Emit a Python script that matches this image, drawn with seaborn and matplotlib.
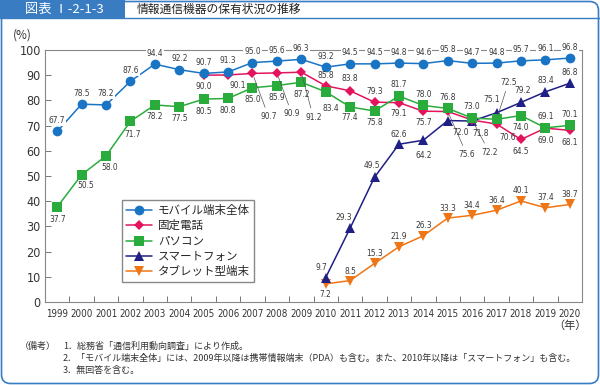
import numpy as np
import pandas as pd
import seaborn as sns
import matplotlib.pyplot as plt
from matplotlib import font_manager
from matplotlib.patches import FancyBboxPatch, Rectangle
from matplotlib.lines import Line2D
from matplotlib.transforms import IdentityTransform

# データ（総務省「通信利用動向調査」）
years = [str(y) for y in range(1999, 2021)]
mobile = [67.7, 78.5, 78.2, 87.6, 94.4, 92.2, 90.7, 91.3, 95.0, 95.6, 96.3,
          93.2, 94.5, 94.5, 94.8, 94.6, 95.8, 94.7, 94.8, 95.7, 96.1, 96.8]
fixed = [None] * 6 + [90.0, 90.1, 90.7, 90.9, 91.2, 85.8, 83.8, 79.3, 79.1,
                      75.7, 75.6, 72.2, 70.6, 64.5, 69.0, 68.1]
pc = [37.7, 50.5, 58.0, 71.7, 78.2, 77.5, 80.5, 80.8, 85.0, 85.9, 87.2,
      83.4, 77.4, 75.8, 81.7, 78.0, 76.8, 73.0, 72.5, 74.0, 69.1, 70.1]
smart = [None] * 11 + [9.7, 29.3, 49.5, 62.6, 64.2, 72.0, 71.8, 75.1, 79.2, 83.4, 86.8]
tablet = [None] * 11 + [7.2, 8.5, 15.3, 21.9, 26.3, 33.3, 34.4, 36.4, 40.1, 37.4, 38.7]

names = ["モバイル端末全体", "固定電話", "パソコン", "スマートフォン", "タブレット型端末"]
series = [mobile, fixed, pc, smart, tablet]
colors = ["#1a74c4", "#e2145e", "#2aac3c", "#1f1f86", "#ee7616"]
markers = ["o", "D", "s", "^", "v"]
msizes = [7, 5.5, 6.5, 6.5, 6.5]

# ラベル位置（ピクセル単位のオフセット, 上が正）
U, D = (0, 11), (0, -11)
lab_mobile = [U] * 22
lab_fixed = [None] * 6 + [D, (10, -11), (16, -43), (15, -41), (12, -45), (0, 10), (0, 12), U,
                          D, D, (19, -43), (17, -32), (11, -13), (0, -12), (0, -12), (0, -12)]
lab_pc = [(0, -13), (4, -11), (4, -12), (2, -13)] + [(0, -12)] * 7 + [(5, -17), D, (0, -12),
          (0, 12), U, U, (0, 12), (12, 37), (0, -12), U, U]
lab_smart = [None] * 11 + [(-4, 10), (-6, 11), (-3, 12), (0, 10), (0, -15), (13, -12),
                           (8, -12), (-5, 13), (2, 12), U, U]
lab_tablet = [None] * 11 + [D, (0, 9)] + [(0, 10)] * 9
labels = [lab_mobile, lab_fixed, lab_pc, lab_smart, lab_tablet]
leaders = {(1, 8), (1, 9), (1, 10), (1, 16), (1, 17), (2, 18)}

rows = []
for name, vals in zip(names, series):
    for i, v in enumerate(vals):
        if v is not None:
            rows.append({"series": name, "pos": i, "year": years[i], "value": v})
df = pd.DataFrame(rows)

sns.set_theme(style="white")
plt.rcParams["font.family"] = ["Noto Sans CJK JP", "DejaVu Sans"]

avail = {f.name for f in font_manager.fontManager.ttflist}
if "Liberation Sans Narrow" in avail:
    narrow = dict(family="Liberation Sans Narrow")
    lab_fs = 6.5
else:
    narrow = dict(family="DejaVu Sans", stretch="condensed")
    lab_fs = 6.0

fig = plt.figure(figsize=(6, 3.85), dpi=100)
W, H = 600, 385

# 枠とヘッダー
fig.add_artist(FancyBboxPatch((1.5, 1.5), W - 3, H - 3, boxstyle="round,pad=0,rounding_size=9",
                              transform=IdentityTransform(), fc="white", ec="#3a7cc2", lw=1.2, zorder=0))
fig.add_artist(Rectangle((0, 1 - 18 / H), 125 / W, 18 / H, transform=fig.transFigure,
                         fc="#3a7cc2", ec="none", zorder=1))
fig.add_artist(Line2D([0, 1], [1 - 18 / H, 1 - 18 / H], transform=fig.transFigure,
                      color="#3a7cc2", lw=1.0))
fig.text(64 / W, 1 - 9.5 / H, "図表 Ⅰ-2-1-3", color="white", fontsize=9.5, ha="center", va="center")
fig.text(137 / W, 1 - 9.5 / H, "情報通信機器の保有状況の推移", color="#222222", fontsize=8.5,
         ha="left", va="center")

ax = fig.add_axes([45 / W, 1 - 302 / H, 537 / W, 252 / H])

order = [4, 3, 1, 2, 0]
for k in order:
    sub = df[df["series"] == names[k]]
    sns.lineplot(data=sub, x="pos", y="value", ax=ax, color=colors[k], marker=markers[k],
                 markersize=msizes[k], markeredgewidth=0, linewidth=1.1, label=names[k],
                 zorder=3 + order.index(k) * 0.1)

# データラベル
for k, vals in enumerate(series):
    for i, v in enumerate(vals):
        if v is None:
            continue
        dx, dy = labels[k][i]
        kw = dict(textcoords="offset pixels", ha="center", va="center", fontsize=lab_fs,
                  color="#3a3a3a", annotation_clip=False, zorder=6, **narrow)
        if (k, i) in leaders:
            kw["arrowprops"] = dict(arrowstyle="-", color="#555555", lw=0.5, shrinkA=1, shrinkB=3)
        if k == 0:
            kw["bbox"] = dict(boxstyle="square,pad=0.1", fc="white", ec="none")
        ax.annotate(f"{v:.1f}", (i, v), xytext=(dx, dy), **kw)

ax.set_xlim(-0.5, 21.5)
ax.set_ylim(0, 100)
ax.set_xticks(range(len(years)))
ax.set_xticklabels(years, fontsize=7, **narrow)
ax.set_xticks(np.arange(0.5, 21, 1), minor=True)
ax.set_yticks(range(0, 101, 10))
ax.set_yticklabels([str(v) for v in range(0, 101, 10)], fontsize=9, **narrow)
ax.tick_params(axis="x", which="major", length=0, pad=5, colors="#333333")
ax.tick_params(axis="x", which="minor", direction="in", length=4, width=0.7, color="#777777", bottom=True)
ax.tick_params(axis="y", direction="in", length=4, width=0.7, color="#777777", left=True,
               labelcolor="#333333", pad=3)
for s in ax.spines.values():
    s.set_color("#888888")
    s.set_linewidth(0.8)
ax.set_xlabel("")
ax.set_ylabel("")

h, l = ax.get_legend_handles_labels()
hmap = dict(zip(l, h))
ax.legend([hmap[n] for n in names], names, loc="upper left", bbox_to_anchor=(0.143, 0.405),
          borderaxespad=0, fontsize=8.3, frameon=True, fancybox=False, edgecolor="#888888",
          framealpha=1, handlelength=2.3, labelspacing=0.2, borderpad=0.35, handletextpad=0.5)

fig.text(22 / W, 1 - 35 / H, "(%)", fontsize=8.5, ha="center", va="center", color="#333333")
fig.text(570 / W, 1 - 326 / H, "（年）", fontsize=8, ha="center", va="center", color="#333333")

notes = ["1．総務省「通信利用動向調査」により作成。",
         "2．「モバイル端末全体」には、2009年以降は携帯情報端末（PDA）も含む。また、2010年以降は「スマートフォン」も含む。",
         "3．無回答を含む。"]
fig.text(20 / W, 1 - 346 / H, "（備考）", fontsize=6.5, ha="left", va="center", color="#333333")
for j, t in enumerate(notes):
    fig.text(63 / W, 1 - (346 + 12 * j) / H, t, fontsize=6.5, ha="left", va="center", color="#333333")

fig.savefig("out.png", dpi=100)
